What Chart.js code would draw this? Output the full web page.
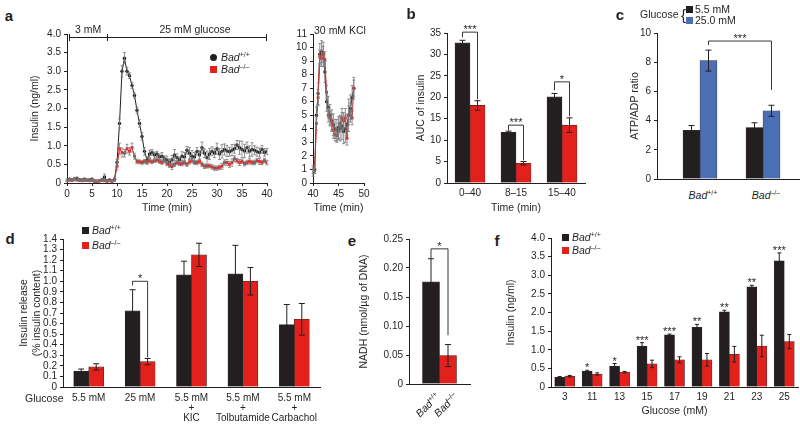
<!DOCTYPE html>
<html>
<head>
<meta charset="utf-8">
<title>Bad and insulin secretion</title>
<script src="https://cdn.jsdelivr.net/npm/chart.js@4.4.1/dist/chart.umd.min.js"></script>
<style>
  body { margin:0; width:800px; height:428px; overflow:hidden; background:#fff; position:relative;
         font-family:'Liberation Sans', Arial, Helvetica, sans-serif; color:#231f20; }
  canvas { position:absolute; }
  .t { position:absolute; white-space:nowrap; font-size:10.5px; line-height:1; z-index:2; }
  .L { position:absolute; font-size:15px; font-weight:bold; line-height:1; z-index:2; }
  .t sup { font-size:7px; vertical-align:4px; line-height:0; font-style:normal; }
  .sq { position:absolute; width:7px; height:7px; z-index:2; }
  .ln { position:absolute; background:#231f20; z-index:2; }
</style>
</head>
<body>
<script>
// ---- panel a: perifusion time course (min, ng/ml) ----
const aTime = [0,0.5,1,1.5,2,2.5,3,3.5,4,4.5,5,5.5,6,6.5,7,7.5,8,8.5,9,9.5,
  10,10.5,11,11.5,12,12.5,13,13.5,14,14.5,15,15.5,16,16.5,17,17.5,18,18.5,19,19.5,
  20,20.5,21,21.5,22,22.5,23,23.5,24,24.5,25,25.5,26,26.5,27,27.5,28,28.5,29,29.5,
  30,30.5,31,31.5,32,32.5,33,33.5,34,34.5,35,35.5,36,36.5,37,37.5,38,38.5,39,39.5,40];
const aWT = [0.08,0.10,0.08,0.11,0.12,0.09,0.08,0.10,0.07,0.08,0.10,0.05,0.05,0.06,0.09,0.16,0.06,0.08,0.06,0.10,
  0.55,1.60,3.00,3.35,3.00,2.88,2.62,2.35,1.95,1.60,1.25,0.85,0.62,0.78,0.82,0.75,0.78,0.70,0.72,0.65,
  0.62,0.55,0.62,0.75,0.68,0.62,0.72,0.70,0.88,0.80,0.72,0.70,0.85,0.75,0.95,0.80,0.68,0.78,0.85,0.80,
  0.92,0.78,0.85,0.90,0.86,0.84,0.88,0.92,1.02,0.95,0.90,0.86,0.95,0.85,0.90,0.88,0.84,0.82,0.90,0.82,0.85];
const aWTerr = [0.03,0.03,0.03,0.04,0.04,0.03,0.03,0.03,0.03,0.03,0.03,0.02,0.02,0.03,0.04,0.08,0.03,0.03,0.03,0.04,
  0.08,0.12,0.15,0.15,0.10,0.08,0.08,0.07,0.08,0.10,0.10,0.10,0.08,0.10,0.08,0.08,0.07,0.08,0.10,0.08,
  0.10,0.10,0.12,0.15,0.10,0.08,0.12,0.12,0.10,0.15,0.15,0.12,0.10,0.12,0.15,0.12,0.18,0.15,0.12,0.12,
  0.15,0.15,0.18,0.15,0.15,0.12,0.15,0.12,0.12,0.18,0.22,0.18,0.15,0.15,0.18,0.12,0.12,0.12,0.10,0.10,0.08];
const aKO = [0.06,0.08,0.07,0.09,0.08,0.07,0.06,0.07,0.08,0.06,0.07,0.06,0.05,0.06,0.07,0.06,0.05,0.06,0.05,0.08,
  0.45,0.92,0.82,0.80,0.92,0.85,0.95,0.72,0.58,0.57,0.55,0.58,0.55,0.60,0.57,0.60,0.62,0.58,0.55,0.60,
  0.52,0.48,0.44,0.50,0.55,0.52,0.52,0.55,0.50,0.57,0.60,0.55,0.55,0.58,0.50,0.45,0.45,0.46,0.43,0.40,
  0.40,0.42,0.45,0.55,0.55,0.50,0.55,0.65,0.60,0.55,0.58,0.52,0.55,0.58,0.55,0.55,0.60,0.58,0.55,0.60,0.55];
const aKOerr = [0.02,0.03,0.02,0.03,0.02,0.02,0.02,0.02,0.03,0.02,0.02,0.02,0.02,0.02,0.02,0.02,0.02,0.02,0.02,0.03,
  0.10,0.15,0.12,0.10,0.12,0.10,0.12,0.08,0.06,0.05,0.05,0.05,0.05,0.06,0.05,0.05,0.06,0.05,0.05,0.06,
  0.06,0.06,0.08,0.06,0.06,0.05,0.06,0.06,0.05,0.06,0.06,0.05,0.06,0.06,0.06,0.06,0.05,0.05,0.06,0.06,
  0.06,0.06,0.08,0.07,0.08,0.08,0.10,0.08,0.06,0.08,0.06,0.06,0.06,0.07,0.06,0.06,0.06,0.08,0.06,0.06,0.06];

// ---- panel a inset: 30 mM KCl ----
const kTime = [40,40.33,40.67,41,41.33,41.67,42,42.33,42.67,43,43.33,43.67,44,44.33,44.67,45,45.33,45.67,46,46.33,46.67,47,47.33,47.67,48];
const kWT = [0.8,1.0,5.0,6.6,9.5,9.7,9.5,8.2,6.0,5.6,5.0,4.6,4.3,4.0,3.9,4.1,4.0,4.2,3.8,4.0,4.3,5.0,5.5,6.3,7.0];
const kWTerr = [0.3,0.3,0.6,0.8,0.8,0.8,0.9,0.8,0.7,0.8,0.8,0.8,0.8,0.7,0.8,0.8,0.9,1.0,0.9,1.0,0.8,1.2,1.0,0.9,0.8];
const kKO = [1.0,0.9,4.4,6.3,9.3,9.2,9.6,9.1,6.7,5.0,4.8,4.5,3.9,3.6,3.5,3.8,4.4,4.8,4.6,4.8,3.3,5.0,5.3,4.8,7.0];
const kKOerr = [0.3,0.2,0.5,0.6,0.5,0.6,0.5,0.6,0.5,0.5,0.5,0.6,0.6,0.5,0.5,0.6,0.6,0.7,0.6,0.7,0.5,0.7,0.6,0.5,0.6];

// ---- panel b: AUC ----
const bCats = ['0–40', '8–15', '15–40'];
const bWT = [32.7, 11.8, 20.1];
const bWTerr = [0.6, 0.3, 0.8];
const bKO = [18.1, 4.6, 13.5];
const bKOerr = [1.1, 0.4, 1.7];

// ---- panel c: ATP/ADP ----
const cPos = [1, 2];
const cLow = [3.33, 3.53];
const cLowErr = [0.33, 0.32];
const cHigh = [8.11, 4.67];
const cHighErr = [0.72, 0.38];

// ---- panel d: insulin release ----
const dCats = [['5.5 mM'], ['25 mM'], ['5.5 mM', '+', 'KIC'], ['5.5 mM', '+', 'Tolbutamide'], ['5.5 mM', '+', 'Carbachol']];
const dWT = [0.15, 0.72, 1.06, 1.07, 0.59];
const dWTerr = [0.02, 0.20, 0.13, 0.27, 0.19];
const dKO = [0.19, 0.24, 1.25, 1.00, 0.64];
const dKOerr = [0.03, 0.03, 0.11, 0.13, 0.15];

// ---- panel e: NADH ----
const eWT = [0.176];
const eWTerr = [0.04];
const eKO = [0.049];
const eKOerr = [0.019];

// ---- panel f: insulin vs glucose ----
const fCats = ['3', '11', '13', '15', '17', '19', '21', '23', '25'];
const fWT = [0.26, 0.43, 0.56, 1.10, 1.40, 1.60, 2.02, 2.69, 3.39];
const fWTerr = [0.02, 0.02, 0.07, 0.09, 0.02, 0.08, 0.04, 0.04, 0.21];
const fKO = [0.29, 0.35, 0.40, 0.62, 0.73, 0.73, 0.88, 1.10, 1.22];
const fKOerr = [0.02, 0.03, 0.02, 0.10, 0.08, 0.17, 0.21, 0.29, 0.19];
const fStars = ['', '*', '*', '***', '***', '**', '**', '**', '***'];

const BLACK = '#231f20', RED = '#e3211c', BLUE = '#4b6eb4';
const FONT = "'Liberation Sans', Arial, Helvetica, sans-serif";

Chart.defaults.font.family = FONT;
Chart.defaults.color = BLACK;
Chart.defaults.animation = false;
Chart.defaults.events = [];
Chart.defaults.plugins.legend.display = false;
Chart.defaults.plugins.tooltip.enabled = false;

// error bars, brackets and stars
const marks = {
  id: 'marks',
  afterDatasetsDraw(chart, args, o) {
    const ctx = chart.ctx, ys = chart.scales.y;
    const val = d => (d !== null && typeof d === 'object') ? d.y : d;
    ctx.save();
    ctx.lineWidth = o.lw || 1;
    chart.data.datasets.forEach((ds, di) => {
      if (!ds.errors) return;
      ctx.strokeStyle = ds.errColor || BLACK;
      chart.getDatasetMeta(di).data.forEach((el, i) => {
        const v = val(ds.data[i]), e = ds.errors[i];
        if (!e) return;
        const y1 = ys.getPixelForValue(v + e), y2 = ys.getPixelForValue(v - e);
        ctx.beginPath();
        ctx.moveTo(el.x, y1); ctx.lineTo(el.x, y2);
        ctx.moveTo(el.x - o.cap, y1); ctx.lineTo(el.x + o.cap, y1);
        ctx.moveTo(el.x - o.cap, y2); ctx.lineTo(el.x + o.cap, y2);
        ctx.stroke();
      });
    });
    ctx.strokeStyle = BLACK; ctx.fillStyle = BLACK; ctx.lineWidth = 0.9;
    ctx.font = '11px ' + FONT;
    ctx.textAlign = 'center'; ctx.textBaseline = 'alphabetic';
    (o.brackets || []).forEach(b => {
      const xa = chart.getDatasetMeta(b.from[0]).data[b.from[1]].x;
      const xb = chart.getDatasetMeta(b.to[0]).data[b.to[1]].x;
      const yt = ys.getPixelForValue(b.top);
      ctx.beginPath();
      ctx.moveTo(xa, ys.getPixelForValue(b.left)); ctx.lineTo(xa, yt);
      ctx.lineTo(xb, yt); ctx.lineTo(xb, ys.getPixelForValue(b.right));
      ctx.stroke();
      ctx.fillText(b.text, (xa + xb) / 2, yt + 1);
    });
    if (o.stars) {
      const ds = chart.data.datasets[o.stars.ds], meta = chart.getDatasetMeta(o.stars.ds);
      o.stars.text.forEach((s, i) => {
        if (!s) return;
        const y = ys.getPixelForValue(val(ds.data[i]) + ds.errors[i]);
        ctx.fillText(s, meta.data[i].x, y + 1);
      });
    }
    ctx.restore();
  }
};
Chart.register(marks);

const f0 = v => v;
const f1 = v => v === 0 ? '0' : v.toFixed(1);
const f2 = v => v === 0 ? '0' : v.toFixed(2);

function yScale(min, max, step, title, fmt) {
  return {
    min, max,
    ticks: { stepSize: step, autoSkip: false, padding: 3, font: { size: 10 }, callback: fmt },
    grid: { drawOnChartArea: false, tickLength: 3, color: BLACK },
    border: { color: BLACK, width: 1 },
    title: title ? { display: true, text: title, padding: 0, font: { size: 10.5 } } : { display: false }
  };
}
function xCat(title, pad, lh) {
  return {
    type: 'category', offset: true,
    grid: { display: false, drawTicks: false, tickLength: 0 },
    border: { color: BLACK, width: 1 },
    ticks: { autoSkip: false, maxRotation: 0, padding: pad, font: { size: 10, lineHeight: lh || 1.2 } },
    title: title ? { display: true, text: title, padding: 0, font: { size: 10.5 } } : { display: false }
  };
}
function xLin(min, max, step, title) {
  return {
    type: 'linear', min, max, offset: false,
    ticks: { stepSize: step, autoSkip: false, maxRotation: 0, padding: 2, font: { size: 10 } },
    grid: { drawOnChartArea: false, tickLength: 3, color: BLACK },
    border: { color: BLACK, width: 1 },
    title: title ? { display: true, text: title, padding: 0, font: { size: 10.5 } } : { display: false }
  };
}

// place a chart so its plot area lands on the given page box
function mk(area, m, cfg) {
  const c = document.createElement('canvas');
  const w = area.r - area.l + m.yw + m.pr, h = area.b - area.t + m.pt + m.xh;
  c.width = w; c.height = h;
  c.style.left = (area.l - m.yw) + 'px'; c.style.top = (area.t - m.pt) + 'px';
  c.style.width = w + 'px'; c.style.height = h + 'px';
  document.body.appendChild(c);
  cfg.options.responsive = false;
  cfg.options.devicePixelRatio = 1;
  cfg.options.layout = { padding: { top: m.pt, right: m.pr, left: 0, bottom: 0 } };
  cfg.options.scales.x.afterFit = s => { s.height = m.xh; };
  cfg.options.scales.y.afterFit = s => { s.width = m.yw; };
  return new Chart(c, cfg);
}

function lineDs(times, vals, errs, color, style, order) {
  return {
    data: times.map((t, i) => ({ x: t, y: vals[i] })),
    errors: errs, errColor: '#77787b',
    borderColor: color, backgroundColor: color, borderWidth: 1,
    pointStyle: style, pointRadius: style === 'rect' ? 2 : 1.7,
    pointBackgroundColor: color, pointBorderWidth: 0, order
  };
}
function barDs(vals, errs, color, thick) {
  return {
    data: vals, errors: errs, backgroundColor: color,
    borderColor: '#3b2b2b', borderWidth: 0.6, barThickness: thick
  };
}

// a
mk({ l: 67, r: 267, t: 33, b: 183 }, { yw: 38, xh: 31, pt: 8, pr: 8 }, {
  type: 'line',
  data: { datasets: [lineDs(aTime, aWT, aWTerr, BLACK, 'circle', 1), lineDs(aTime, aKO, aKOerr, RED, 'rect', 0)] },
  options: {
    scales: { x: xLin(0, 40, 5, 'Time (min)'), y: yScale(0, 4, 0.5, 'Insulin (ng/ml)', f1) },
    plugins: { marks: { cap: 1.5, lw: 0.8 } }
  }
});
// a inset
mk({ l: 313, r: 364, t: 33, b: 183 }, { yw: 22, xh: 31, pt: 8, pr: 8 }, {
  type: 'line',
  data: { datasets: [lineDs(kTime, kWT, kWTerr, BLACK, 'circle', 1), lineDs(kTime, kKO, kKOerr, RED, 'rect', 0)] },
  options: {
    scales: { x: xLin(40, 50, 5, 'Time (min)'), y: yScale(0, 11, 1, '', f0) },
    plugins: { marks: { cap: 1.5, lw: 0.8 } }
  }
});
// b
mk({ l: 447, r: 585, t: 33, b: 183 }, { yw: 32, xh: 31, pt: 16, pr: 6 }, {
  type: 'bar',
  data: { labels: bCats, datasets: [barDs(bWT, bWTerr, BLACK, 15), barDs(bKO, bKOerr, RED, 15)] },
  options: {
    scales: { x: xCat('Time (min)', 4), y: yScale(0, 35, 5, 'AUC of insulin', f0) },
    plugins: { marks: { cap: 3, brackets: [
      { from: [0, 0], to: [1, 0], top: 35.2, left: 34.0, right: 19.5, text: '***' },
      { from: [0, 1], to: [1, 1], top: 13.5, left: 12.3, right: 5.3, text: '***' },
      { from: [0, 2], to: [1, 2], top: 23.6, left: 21.6, right: 15.6, text: '*' }
    ] } }
  }
});
// c
const cx = xLin(0.3175, 2.5873, 1, '');
cx.ticks.display = false; cx.grid.display = false;
mk({ l: 657, r: 800, t: 32, b: 182 }, { yw: 28, xh: 6, pt: 8, pr: 0 }, {
  type: 'bar',
  data: { datasets: [
    barDs(cPos.map((x, i) => ({ x, y: cLow[i] })), cLowErr, BLACK, 17),
    barDs(cPos.map((x, i) => ({ x, y: cHigh[i] })), cHighErr, BLUE, 17)
  ] },
  options: {
    scales: { x: cx, y: yScale(0, 10, 2, 'ATP/ADP ratio', f0) },
    plugins: { marks: { cap: 3, brackets: [
      { from: [1, 0], to: [1, 1], top: 9.45, left: 9.18, right: 6.1, text: '***' }
    ] } }
  }
});
// d
mk({ l: 63, r: 320, t: 238, b: 387 }, { yw: 45, xh: 42, pt: 8, pr: 4 }, {
  type: 'bar',
  data: { labels: dCats, datasets: [barDs(dWT, dWTerr, BLACK, 15), barDs(dKO, dKOerr, RED, 15)] },
  options: {
    scales: { x: xCat('', 6, 1.0), y: yScale(0, 1.4, 0.1, ['Insulin release', '(% insulin content)'], f1) },
    plugins: { marks: { cap: 3, brackets: [
      { from: [0, 1], to: [1, 1], top: 1.0, left: 0.96, right: 0.28, text: '*' }
    ] } }
  }
});
// e
const ex = xCat('', 4);
ex.ticks.display = false;
mk({ l: 409, r: 470, t: 238, b: 387 }, { yw: 51, xh: 6, pt: 8, pr: 4 }, {
  type: 'bar',
  data: { labels: [''], datasets: [barDs(eWT, eWTerr, BLACK, 17), barDs(eKO, eKOerr, RED, 17)] },
  options: {
    scales: { x: ex, y: yScale(0, 0.25, 0.05, 'NADH (nmol/µg of DNA)', f2) },
    plugins: { marks: { cap: 3, brackets: [
      { from: [0, 0], to: [1, 0], top: 0.233, left: 0.216, right: 0.084, text: '*' }
    ] } }
  }
});
// f
mk({ l: 551, r: 798, t: 238, b: 387 }, { yw: 46, xh: 30, pt: 18, pr: 2 }, {
  type: 'bar',
  data: { labels: fCats, datasets: [barDs(fWT, fWTerr, BLACK, 10), barDs(fKO, fKOerr, RED, 10)] },
  options: {
    scales: { x: xCat('Glucose (mM)', 4), y: yScale(0, 4, 0.5, 'Insulin (ng/ml)', f1) },
    plugins: { marks: { cap: 2, stars: { ds: 0, text: fStars } } }
  }
});

// ---- text and legends ----
function txt(html, x, y, align, cls) {
  const d = document.createElement('div');
  d.className = cls || 't';
  d.innerHTML = html;
  d.style.left = x + 'px'; d.style.top = y + 'px';
  const tx = align === 'l' ? '0' : align === 'r' ? '-100%' : '-50%';
  d.style.transform = `translate(${tx}, -50%)`;
  document.body.appendChild(d);
  return d;
}
function box(cls, x, y, w, h, color, radius) {
  const d = document.createElement('div');
  d.className = cls;
  Object.assign(d.style, { left: x + 'px', top: y + 'px', width: w + 'px', height: h + 'px', background: color });
  if (radius) d.style.borderRadius = radius;
  document.body.appendChild(d);
}
const WT = '<i>Bad</i><sup>+/+</sup>', KO = '<i>Bad</i><sup>–/–</sup>';

[['a', 9, 15], ['b', 411, 13], ['c', 620, 14], ['d', 10, 238], ['e', 352, 240], ['f', 497, 240]]
  .forEach(([s, x, y]) => txt(s, x, y, 'c', 'L'));

// a header bar
txt('3 mM', 88, 29);
txt('25 mM glucose', 195, 29);
box('ln', 69, 37, 198, 1, BLACK);
[69, 107, 266].forEach(x => box('ln', x, 34, 1, 7, BLACK));
txt('30 mM KCl', 340, 30);
// a legend
box('sq', 210, 54, 7, 7, BLACK, '50%');
txt(WT, 221, 57, 'l');
box('sq', 210, 66, 7, 7, RED);
txt(KO, 221, 69, 'l');

// c legend and labels
txt('Glucose', 640, 14, 'l');
txt('{', 681, 14, 'l').style.fontSize = '15px';
box('sq', 686, 6, 7, 7, BLACK);
txt('5.5 mM', 695, 9, 'l');
box('sq', 686, 17, 7, 7, BLUE);
txt('25.0 mM', 695, 20, 'l');
txt(WT, 703, 195);
txt(KO, 766, 195);

// d legend
box('sq', 82, 227, 7, 7, BLACK);
txt(WT, 92, 230, 'l');
box('sq', 82, 242, 7, 7, RED);
txt(KO, 92, 245, 'l');
txt('Glucose', 25, 398, 'l');

// e rotated labels
[[WT, 434, 391], [KO, 452, 391]].forEach(([h, x, y]) => {
  const d = txt(h, x, y, 'r');
  d.style.transformOrigin = '100% 0';
  d.style.transform = 'translate(-100%, 0) rotate(-45deg)';
});

// f legend
box('sq', 562, 234, 7, 7, BLACK);
txt(WT, 572, 237, 'l');
box('sq', 562, 247, 7, 7, RED);
txt(KO, 572, 250, 'l');
</script>
</body>
</html>
